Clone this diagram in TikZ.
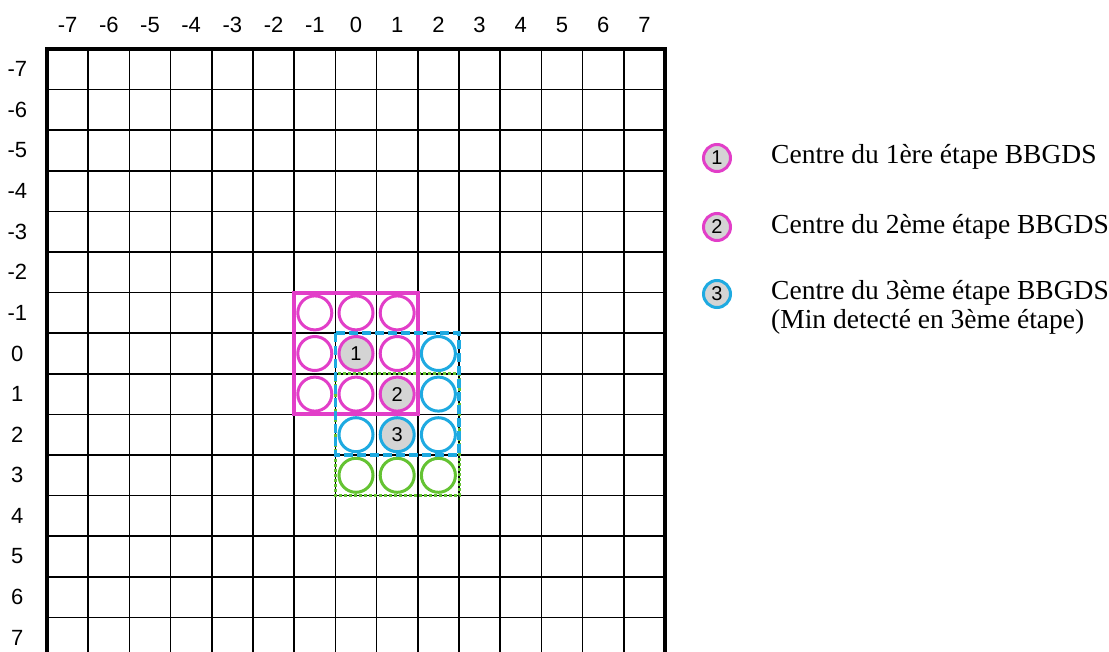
\documentclass[tikz,border=0pt]{standalone}
\usepackage{fontspec}
\setmainfont{Liberation Serif}
\newfontfamily\labfont{Liberation Sans}
\definecolor{mag}{RGB}{226,62,200}
\definecolor{cyn}{RGB}{30,170,225}
\definecolor{grn}{RGB}{100,195,50}
\definecolor{gfill}{RGB}{212,212,212}
\tikzset{
  gridline/.style={line width=1.6pt},
  border/.style={line width=3.5pt},
  axlab/.style={font=\labfont\fontsize{22}{22}\selectfont, inner sep=0},
  cbase/.style={circle, line width=3pt, minimum size=34pt, inner sep=0, font=\labfont\fontsize{20}{20}\selectfont},
  cmag/.style={cbase, draw=mag},
  ccyn/.style={cbase, draw=cyn},
  cgrn/.style={cbase, draw=grn},
  filled/.style={fill=gfill},
  lcirc/.style={circle, line width=3pt, minimum size=27pt, inner sep=0, fill=gfill},
  legtext/.style={anchor=west, inner sep=0, font=\fontsize{27.5}{29}\selectfont, align=left}
}
\begin{document}
\begin{tikzpicture}[x=1pt,y=-1pt]
\useasboundingbox (0,0) rectangle (1109,651);
\clip (0,0) rectangle (1109,651);
\fill[white] (0,0) rectangle (1109,651);
\begin{scope}[shift={(47pt,-49pt)}, x=41.2pt, y=-40.6pt]
  \foreach \i in {1,...,14} \draw[gridline] (\i,0) -- (\i,15);
  \foreach \j in {1,...,14} \draw[gridline] (0,\j) -- (15,\j);
  \draw[border] (0,15) -- (0,0) -- (15,0) -- (15,15);
  \foreach \k [evaluate=\k as \p using \k+7.5] in {-7,...,7} {
    \node[axlab] (col\k) at (\p,-0.6) {\k};
    \node[axlab] (row\k) at (-0.72,\p) {\k};
  }
  % search windows
  \draw[grn, line width=3pt, dotted] (7,8) rectangle (10,11);
  \draw[mag, line width=4pt] (6,6) rectangle (9,9);
  \draw[cyn, line width=3.5pt, dash pattern=on 9pt off 4pt] (7,7) rectangle (10,10);
  % circles
  \node[cmag] (m1) at (6.5,6.5) {};
  \node[cmag] (m2) at (7.5,6.5) {};
  \node[cmag] (m3) at (8.5,6.5) {};
  \node[cmag] (m4) at (6.5,7.5) {};
  \node[cmag, filled] (m5) at (7.5,7.5) {1};
  \node[cmag] (m6) at (8.5,7.5) {};
  \node[cmag] (m7) at (6.5,8.5) {};
  \node[cmag] (m8) at (7.5,8.5) {};
  \node[cmag, filled] (m9) at (8.5,8.5) {2};
  \node[ccyn] (c1) at (9.5,7.5) {};
  \node[ccyn] (c2) at (9.5,8.5) {};
  \node[ccyn] (c3) at (7.5,9.5) {};
  \node[ccyn, filled] (c4) at (8.5,9.5) {3};
  \node[ccyn] (c5) at (9.5,9.5) {};
  \node[cgrn] (g1) at (7.5,10.5) {};
  \node[cgrn] (g2) at (8.5,10.5) {};
  \node[cgrn] (g3) at (9.5,10.5) {};
\end{scope}
% legend
\node[lcirc, draw=mag] (l1) at (717,158) {\labfont\fontsize{20}{20}\selectfont 1};
\node[lcirc, draw=mag] (l2) at (717,227) {\labfont\fontsize{20}{20}\selectfont 2};
\node[lcirc, draw=cyn] (l3) at (717,294) {\labfont\fontsize{20}{20}\selectfont 3};
\node[legtext] (t1) at (771,157) {Centre du 1ère étape BBGDS};
\node[legtext] (t2) at (771,227) {Centre du 2ème étape BBGDS};
\node[legtext, anchor=north west] (t3) at (771,280) {Centre du 3ème étape BBGDS\\(Min detecté en 3ème étape)};
\end{tikzpicture}
\end{document}
